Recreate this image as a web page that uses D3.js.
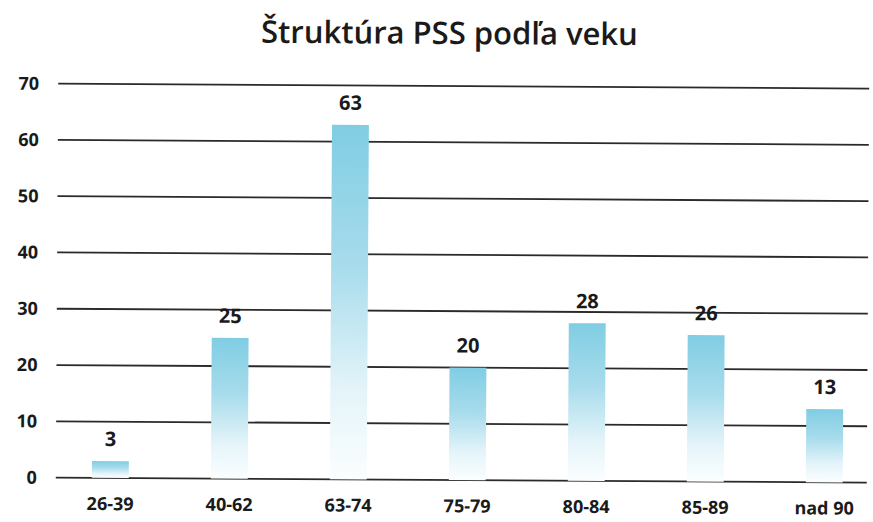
<!DOCTYPE html>
<html>
<head>
<meta charset="utf-8">
<script src="https://cdn.jsdelivr.net/npm/d3@7"></script>
<style>
  body { margin: 0; background: #fff; }
  text { font-family: "Open Sans", "DejaVu Sans", sans-serif; font-weight: bold; fill: #1a1a1a; }
</style>
</head>
<body>
<svg id="chart" width="873" height="522"></svg>
<script>
// data
const categories = ['26-39', '40-62', '63-74', '75-79', '80-84', '85-89', 'nad 90'];
const counts = [3, 25, 63, 20, 28, 26, 13];
const yTicks = [0, 10, 20, 30, 40, 50, 60, 70];
const title = 'Štruktúra PSS podľa veku';

const width = 873, height = 522;
const margin = { top: 86, right: 0, bottom: 42, left: 52 };

const svg = d3.select('#chart');

// gradient for bars: light blue on top fading to white
const defs = svg.append('defs');
const grad = defs.append('linearGradient')
  .attr('id', 'barGrad')
  .attr('x1', 0).attr('y1', 0).attr('x2', 0).attr('y2', 1);
grad.append('stop').attr('offset', '0%').attr('stop-color', '#80cde3');
grad.append('stop').attr('offset', '40%').attr('stop-color', '#a8dcec');
grad.append('stop').attr('offset', '75%').attr('stop-color', '#e4f4f9');
grad.append('stop').attr('offset', '100%').attr('stop-color', '#fbfeff');

// the scan is tilted a little, so rotate the whole thing slightly
const g = svg.append('g').attr('transform', 'rotate(0.35 450 280)');

const x = d3.scaleBand()
  .domain(categories)
  .range([margin.left, 885])
  .paddingInner(0.69)
  .paddingOuter(0.345);

const y = d3.scaleLinear()
  .domain([0, 70])
  .range([height - margin.bottom, margin.top]);

// title
g.append('text')
  .attr('x', 448)
  .attr('y', 44)
  .attr('text-anchor', 'middle')
  .style('font-size', '31px')
  .style('font-weight', '600')
  .text(title);

// gridlines
g.append('g')
  .selectAll('line')
  .data(yTicks)
  .enter()
  .append('line')
  .attr('x1', 57)
  .attr('x2', 868)
  .attr('y1', d => y(d))
  .attr('y2', d => y(d))
  .attr('stroke', '#2a2a2a')
  .attr('stroke-width', 1.8);

// y axis labels
const yAxis = g.append('g')
  .attr('transform', `translate(${margin.left - 14},0)`)
  .call(d3.axisLeft(y).tickValues(yTicks).tickSize(0).tickPadding(0));
yAxis.select('.domain').remove();
yAxis.selectAll('text')
  .style('font-size', '18px')
  .style('font-family', '"Open Sans", "DejaVu Sans", sans-serif')
  .attr('fill', '#1a1a1a');

// bars
g.append('g')
  .selectAll('rect')
  .data(counts)
  .enter()
  .append('rect')
  .attr('x', (d, i) => x(categories[i]))
  .attr('y', d => y(d))
  .attr('width', x.bandwidth())
  .attr('height', d => y(0) - y(d))
  .attr('fill', 'url(#barGrad)');

// value labels
g.append('g')
  .selectAll('text')
  .data(counts)
  .enter()
  .append('text')
  .attr('x', (d, i) => x(categories[i]) + x.bandwidth() / 2)
  .attr('y', d => y(d) - 15)
  .attr('text-anchor', 'middle')
  .style('font-size', '20px')
  .text(d => d);

// category labels
const xAxis = g.append('g')
  .attr('transform', `translate(0,${height - margin.bottom + 16})`)
  .call(d3.axisBottom(x).tickSize(0).tickPadding(0));
xAxis.select('.domain').remove();
xAxis.selectAll('text')
  .attr('dy', '0.9em')
  .style('font-size', '18px')
  .style('font-family', '"Open Sans", "DejaVu Sans", sans-serif')
  .attr('fill', '#1a1a1a');
</script>
</body>
</html>
